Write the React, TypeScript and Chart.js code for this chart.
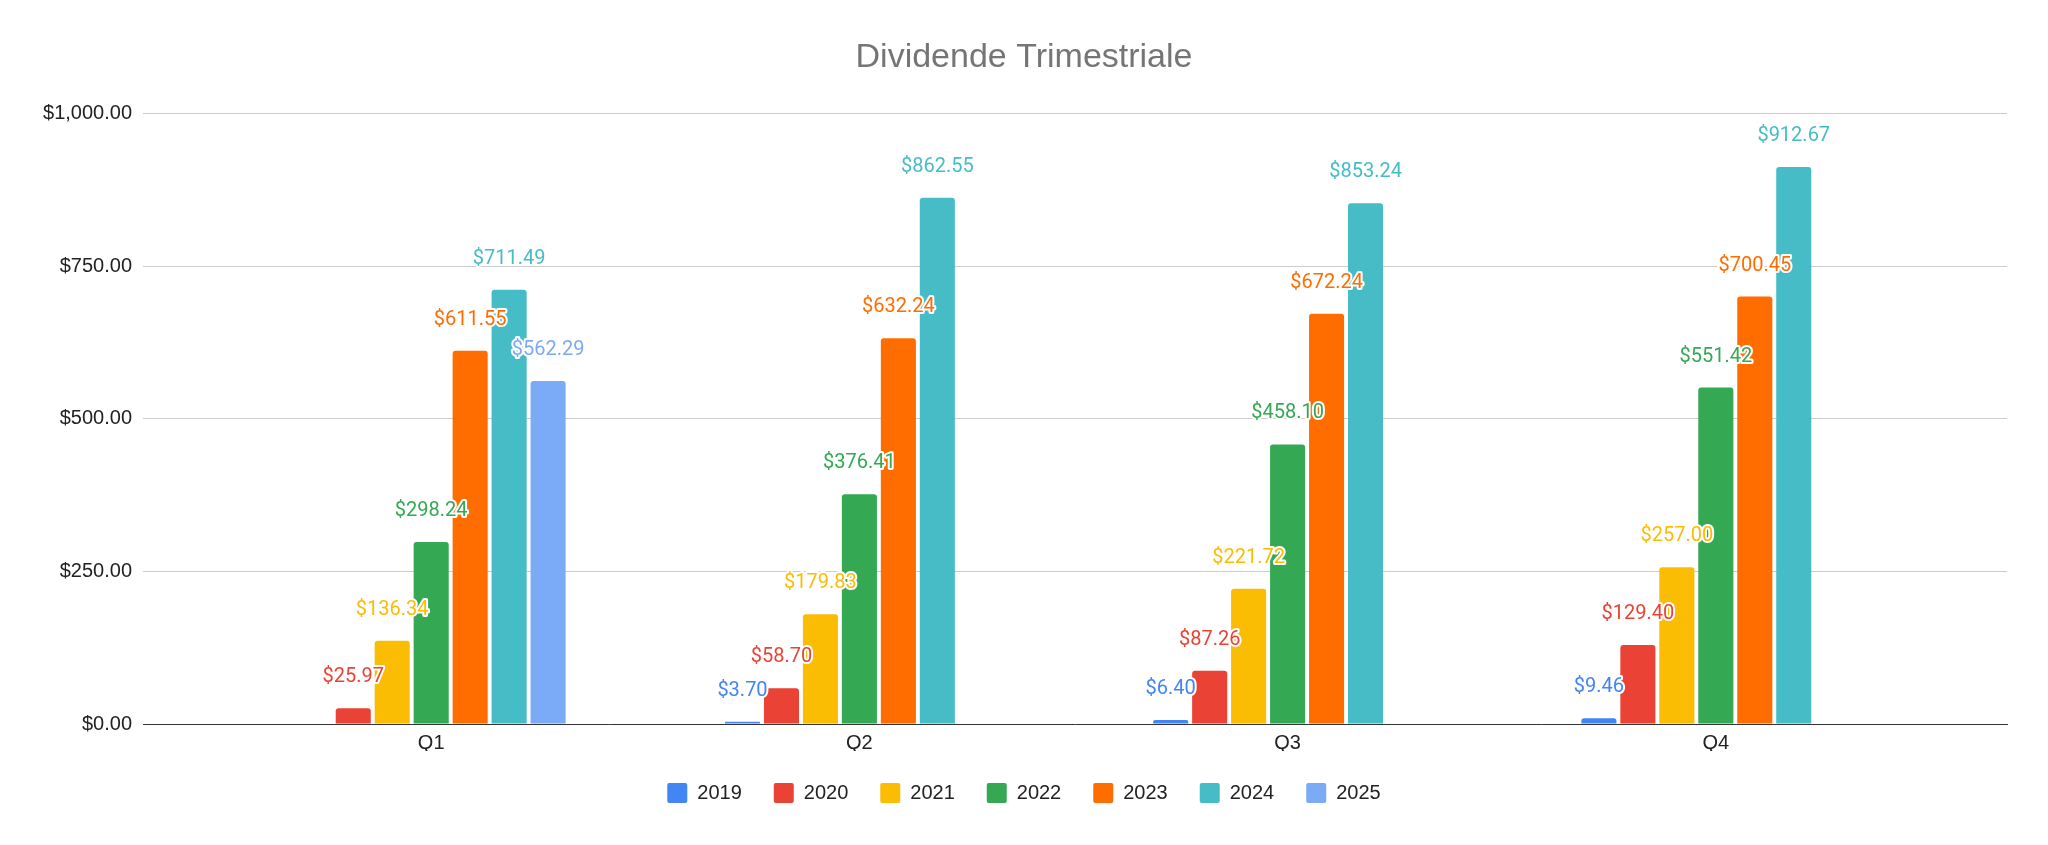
import React, { useEffect, useRef } from 'react';
import { Chart, registerables, Plugin } from 'chart.js';

Chart.register(...registerables);

// categorie (trimestri) e anni
const quarters = ['Q1', 'Q2', 'Q3', 'Q4'];
const years = ['2019', '2020', '2021', '2022', '2023', '2024', '2025'];

// valori per anno, in ordine Q1..Q4
const y2019 = [null, 3.7, 6.4, 9.46];
const y2020 = [25.97, 58.7, 87.26, 129.4];
const y2021 = [136.34, 179.83, 221.72, 257.0];
const y2022 = [298.24, 376.41, 458.1, 551.42];
const y2023 = [611.55, 632.24, 672.24, 700.45];
const y2024 = [711.49, 862.55, 853.24, 912.67];
const y2025 = [562.29, null, null, null];

const yearValues = [y2019, y2020, y2021, y2022, y2023, y2024, y2025];
const yearColors = ['#4285F4', '#EA4335', '#FBBC04', '#34A853', '#FF6D01', '#46BDC6', '#7BAAF7'];

const yTicks = [0, 250, 500, 750, 1000];

const FONT = "'Liberation Sans', Arial, sans-serif";

const money = (v: number) =>
  '$' + v.toLocaleString('en-US', { minimumFractionDigits: 2, maximumFractionDigits: 2 });

// etichette sopra le barre con alone bianco
const valueLabels: Plugin<'bar'> = {
  id: 'valueLabels',
  afterDatasetsDraw(chart) {
    const { ctx } = chart;
    ctx.save();
    ctx.font = '20px Roboto';
    ctx.textAlign = 'center';
    ctx.textBaseline = 'middle';
    ctx.lineJoin = 'round';
    chart.data.datasets.forEach((ds, di) => {
      const meta = chart.getDatasetMeta(di);
      meta.data.forEach((el: any, i) => {
        const raw = yearValues[di][i];
        if (raw == null) return;
        const text = money(raw);
        const y = el.y - 31;
        ctx.lineWidth = 4;
        ctx.strokeStyle = '#ffffff';
        ctx.strokeText(text, el.x, y);
        ctx.fillStyle = ds.backgroundColor as string;
        ctx.fillText(text, el.x, y);
      });
    });
    ctx.restore();
  },
};

const App: React.FC = () => {
  const canvasRef = useRef<HTMLCanvasElement | null>(null);

  useEffect(() => {
    const canvas = canvasRef.current;
    if (!canvas) return;

    const chart = new Chart(canvas, {
      type: 'bar',
      data: {
        datasets: years.map((year, di) => ({
          label: year,
          data: yearValues[di].map((v, i) => ({ x: i, y: v })) as any,
          backgroundColor: yearColors[di],
          borderRadius: 3,
          categoryPercentage: 0.637,
          barPercentage: 0.9,
        })),
      },
      options: {
        animation: false,
        responsive: true,
        maintainAspectRatio: false,
        layout: { padding: { left: 0, right: 0, top: 0, bottom: 32 } },
        plugins: {
          title: {
            display: true,
            text: 'Dividende Trimestriale',
            color: '#757575',
            font: { family: FONT, size: 34, weight: 'normal', lineHeight: 1.2 },
            padding: { top: 37, bottom: 36 },
          },
          legend: {
            position: 'bottom',
            labels: {
              boxWidth: 20,
              boxHeight: 20,
              padding: 32,
              color: '#222222',
              font: { family: FONT, size: 20 },
              useBorderRadius: true,
              borderRadius: 2,
            },
          },
          tooltip: { enabled: false },
        },
        scales: {
          x: {
            type: 'linear',
            min: -0.673,
            max: 3.68,
            offset: false,
            bounds: 'data',
            grid: { display: false, drawTicks: false, offset: false },
            border: { display: true, color: '#333333', width: 1 },
            ticks: {
              padding: 7,
              color: '#222222',
              font: { family: FONT, size: 20 },
              callback: (v) => quarters[v as number] ?? '',
            },
            afterBuildTicks: (scale) => {
              scale.ticks = quarters.map((_, i) => ({ value: i }));
            },
            afterFit: (scale) => {
              scale.height = 27;
            },
          },
          y: {
            min: 0,
            max: 1000,
            grid: {
              drawTicks: false,
              color: (c) => (c.tick && c.tick.value === 0 ? 'rgba(0,0,0,0)' : '#cccccc'),
              lineWidth: 1,
            },
            border: { display: false },
            ticks: {
              padding: 11,
              color: '#222222',
              font: { family: FONT, size: 20 },
              callback: (v) => money(v as number),
            },
            afterBuildTicks: (scale) => {
              scale.ticks = yTicks.map((value) => ({ value }));
            },
            afterFit: (scale) => {
              scale.width = 143;
            },
          },
          yRight: {
            position: 'right',
            display: true,
            grid: { display: false, drawTicks: false },
            border: { display: false },
            ticks: { display: false },
            afterFit: (scale) => {
              scale.width = 41;
            },
          },
        },
      },
      plugins: [valueLabels],
    });

    return () => chart.destroy();
  }, []);

  return (
    <div style={{ position: 'fixed', left: 0, top: 0, width: 2048, height: 845, background: '#ffffff' }}>
      <canvas ref={canvasRef} />
    </div>
  );
};

export default App;
